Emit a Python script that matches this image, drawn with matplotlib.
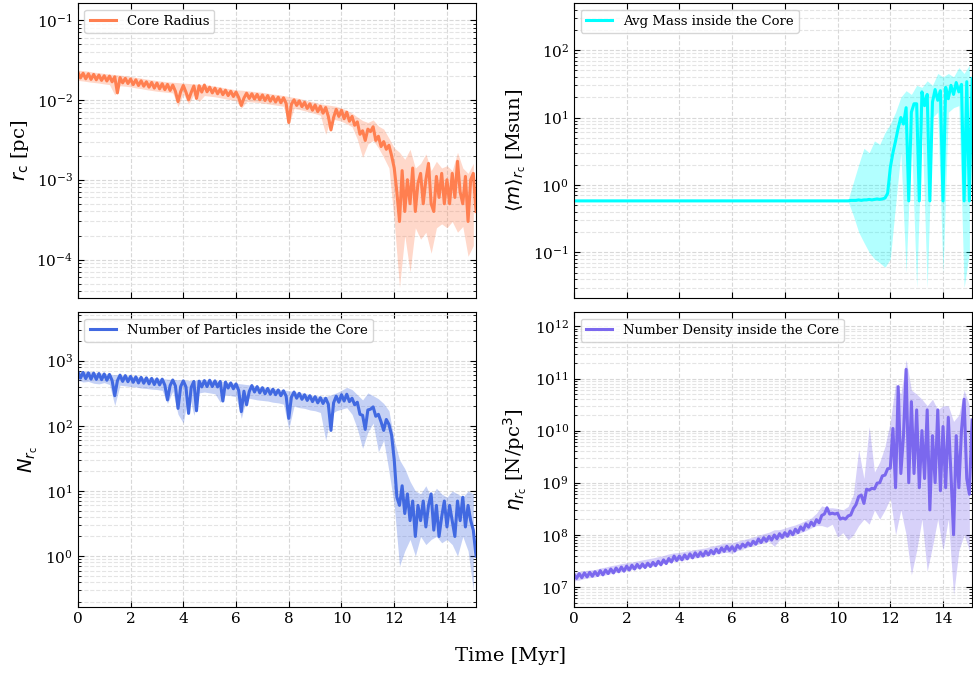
import numpy as np
import matplotlib
matplotlib.use("Agg")
import matplotlib.pyplot as plt
from matplotlib.ticker import MultipleLocator

plt.rcParams['font.family'] = 'DejaVu Serif'
plt.rcParams['mathtext.fontset'] = 'dejavusans'

# sampling times [Myr]: line every 0.1 Myr, shaded band every 0.2 Myr
t = np.round(np.arange(0, 15.15, 0.1), 1)
t_band = np.round(np.arange(0, 15.05, 0.2), 1)

# --- core radius [pc] ---
r_core = [
    0.0222, 0.0188, 0.0215, 0.0183, 0.0212, 0.0180, 0.0208, 0.0178, 0.0204, 0.0175,
    0.0200, 0.0172, 0.0198, 0.0168, 0.0194, 0.0122, 0.0190, 0.0163, 0.0186, 0.0160,
    0.0182, 0.0155, 0.0178, 0.0151, 0.0173, 0.0148, 0.0168, 0.0144, 0.0165, 0.0140,
    0.0162, 0.0137, 0.0159, 0.0134, 0.0156, 0.0131, 0.0153, 0.0128, 0.0095, 0.0126,
    0.0151, 0.0125, 0.0100, 0.0124, 0.0149, 0.0104, 0.0150, 0.0125, 0.0153, 0.0126,
    0.0144, 0.0122, 0.0140, 0.0119, 0.0136, 0.0116, 0.0132, 0.0113, 0.0128, 0.0110,
    0.0125, 0.0107, 0.0085, 0.0105, 0.0121, 0.0104, 0.0119, 0.0102, 0.0117, 0.0100,
    0.0115, 0.0098, 0.0113, 0.0096, 0.0110, 0.0094, 0.0108, 0.0092, 0.0106, 0.0090,
    0.0052, 0.0088, 0.0100, 0.0085, 0.0097, 0.0082, 0.0093, 0.0078, 0.0089, 0.0074,
    0.0086, 0.0071, 0.0083, 0.0068, 0.0080, 0.0062, 0.0042, 0.0060, 0.0076, 0.0062,
    0.0074, 0.0058, 0.0070, 0.0054, 0.0062, 0.0048, 0.0053, 0.0037, 0.0041, 0.0031,
    0.0043, 0.0040, 0.0046, 0.0031, 0.0035, 0.0026, 0.0030, 0.0024, 0.0027, 0.0020,
    0.0014, 0.0007, 0.0003, 0.0013, 0.0004, 0.0010, 0.0005, 0.0014, 0.0004, 0.0009,
    0.0012, 0.0005, 0.0010, 0.0016, 0.0005, 0.0004, 0.0011, 0.0006, 0.0012, 0.0005,
    0.0010, 0.0005, 0.0012, 0.0006, 0.0017, 0.0007, 0.0005, 0.0011, 0.0003, 0.0010,
    0.0012, 0.0004,
]
r_core_hi = [
    0.0235, 0.0232, 0.0228, 0.0222, 0.0218, 0.0214, 0.021, 0.0207, 0.0204, 0.02,
    0.0196, 0.0191, 0.0187, 0.0182, 0.0178, 0.0174, 0.0171, 0.0168, 0.0166, 0.0164,
    0.0162, 0.016, 0.0158, 0.0157, 0.0155, 0.0152, 0.0148, 0.0145, 0.014, 0.0137,
    0.0133, 0.0132, 0.013, 0.0128, 0.0126, 0.0124, 0.0121, 0.0118, 0.0116, 0.0113,
    0.011, 0.0107, 0.0104, 0.01, 0.0096, 0.0093, 0.0089, 0.0087, 0.0085, 0.0083,
    0.0079, 0.0074, 0.0068, 0.0061, 0.0055, 0.0052, 0.0056, 0.0047, 0.0043, 0.0033,
    0.0025, 0.0022, 0.0018, 0.0024, 0.0014, 0.0016, 0.0021, 0.0013, 0.0017, 0.0014,
    0.0015, 0.0013, 0.0022, 0.0014, 0.0012, 0.0016,
]
r_core_lo = [
    0.0175, 0.0172, 0.0168, 0.0165, 0.0162, 0.0158, 0.0155, 0.0115, 0.015, 0.0148,
    0.0145, 0.0141, 0.0138, 0.0134, 0.0131, 0.0128, 0.0126, 0.0124, 0.0122, 0.0082,
    0.0119, 0.0088, 0.0116, 0.0095, 0.0113, 0.0111, 0.0109, 0.0106, 0.0103, 0.01,
    0.0098, 0.0078, 0.0095, 0.0094, 0.0093, 0.0091, 0.0089, 0.0087, 0.0085, 0.0083,
    0.0048, 0.0078, 0.0076, 0.0073, 0.007, 0.0067, 0.0064, 0.0037, 0.0058, 0.0056,
    0.0054, 0.005, 0.0046, 0.0032, 0.0019, 0.0028, 0.0031, 0.0025, 0.0019, 0.0014,
    3e-4, 4.5e-5, 2e-4, 7e-5, 2.5e-4, 1.8e-4, 2.2e-4, 1.2e-4, 2.5e-4, 2.8e-4,
    2.5e-4, 3e-4, 2.2e-4, 2.6e-4, 1.1e-4, 1.5e-4,
]

# --- average stellar mass inside the core [Msun] ---
m_core = [
    0.58, 0.58, 0.58, 0.58, 0.58, 0.58, 0.58, 0.58, 0.58, 0.58,
    0.58, 0.58, 0.58, 0.58, 0.58, 0.58, 0.58, 0.58, 0.58, 0.58,
    0.58, 0.58, 0.58, 0.58, 0.58, 0.58, 0.58, 0.58, 0.58, 0.58,
    0.58, 0.58, 0.58, 0.58, 0.58, 0.58, 0.58, 0.58, 0.58, 0.58,
    0.58, 0.58, 0.58, 0.58, 0.58, 0.58, 0.58, 0.58, 0.58, 0.58,
    0.58, 0.58, 0.58, 0.58, 0.58, 0.58, 0.58, 0.58, 0.58, 0.58,
    0.58, 0.58, 0.58, 0.58, 0.58, 0.58, 0.58, 0.58, 0.58, 0.58,
    0.58, 0.58, 0.58, 0.58, 0.58, 0.58, 0.58, 0.58, 0.58, 0.58,
    0.58, 0.58, 0.58, 0.58, 0.58, 0.58, 0.58, 0.58, 0.58, 0.58,
    0.58, 0.58, 0.58, 0.58, 0.58, 0.58, 0.58, 0.58, 0.58, 0.58,
    0.58, 0.58, 0.58, 0.58, 0.58, 0.59, 0.59, 0.59, 0.6, 0.59,
    0.6, 0.6, 0.61, 0.6, 0.61, 0.62, 0.61, 0.62, 0.64, 0.75,
    1.8, 3.0, 4.5, 7.0, 10, 8.0, 14, 0.58, 12, 16,
    16, 0.58, 24, 15, 22, 0.58, 17, 26, 18, 25,
    0.58, 28, 19, 30, 22, 33, 24, 31, 0.58, 34,
    0.58, 38,
]
m_core_hi = [
    0.6, 0.6, 0.6, 0.6, 0.6, 0.6, 0.6, 0.6, 0.6, 0.6,
    0.6, 0.6, 0.6, 0.6, 0.6, 0.6, 0.6, 0.6, 0.6, 0.6,
    0.6, 0.6, 0.6, 0.6, 0.6, 0.6, 0.6, 0.6, 0.6, 0.6,
    0.6, 0.6, 0.6, 0.6, 0.6, 0.6, 0.6, 0.6, 0.6, 0.6,
    0.6, 0.6, 0.6, 0.6, 0.6, 0.6, 0.6, 0.6, 0.6, 0.6,
    0.6, 0.6, 0.6, 1.1, 2.0, 3.5, 3.0, 4.5, 4.0, 6.0,
    8, 12, 20, 25, 22, 30, 28, 35, 30, 45,
    40, 45, 40, 55, 45, 60,
]
m_core_lo = [
    0.57, 0.57, 0.57, 0.57, 0.57, 0.57, 0.57, 0.57, 0.57, 0.57,
    0.57, 0.57, 0.57, 0.57, 0.57, 0.57, 0.57, 0.57, 0.57, 0.57,
    0.57, 0.57, 0.57, 0.57, 0.57, 0.57, 0.57, 0.57, 0.57, 0.57,
    0.57, 0.57, 0.57, 0.57, 0.57, 0.57, 0.57, 0.57, 0.57, 0.57,
    0.57, 0.57, 0.57, 0.57, 0.57, 0.57, 0.57, 0.57, 0.57, 0.57,
    0.57, 0.57, 0.57, 0.35, 0.2, 0.14, 0.1, 0.08, 0.07, 0.06,
    0.08, 0.5, 3, 0.05, 5, 0.03, 8, 0.03, 10, 12,
    0.05, 12, 14, 15, 0.03, 0.1,
]

# --- number of particles inside the core ---
n_core = [
    680, 540, 660, 530, 650, 520, 645, 515, 635, 510,
    625, 500, 615, 495, 290, 490, 600, 480, 590, 475,
    575, 465, 565, 455, 555, 450, 545, 440, 535, 430,
    525, 425, 520, 420, 250, 415, 505, 410, 185, 400,
    490, 395, 155, 390, 480, 170, 485, 395, 495, 400,
    500, 400, 490, 395, 480, 240, 470, 380, 455, 370,
    440, 350, 165, 340, 210, 335, 415, 330, 400, 320,
    385, 310, 375, 305, 365, 300, 355, 290, 345, 285,
    130, 275, 330, 265, 315, 255, 300, 245, 290, 235,
    280, 225, 270, 220, 265, 215, 85, 225, 285, 230,
    300, 240, 305, 235, 265, 210, 230, 150, 145, 88,
    175, 180, 195, 140, 150, 115, 85, 125, 105, 72,
    30, 8, 6, 12, 4.5, 9, 3.5, 7, 2, 6,
    3.5, 7, 2.8, 6, 9, 2.5, 6, 2, 4, 7,
    2.8, 6, 3.5, 2, 7, 3.5, 8, 2.8, 6, 3.5,
    2.5, 1,
]
n_core_hi = [
    700, 680, 690, 660, 650, 640, 620, 610, 600, 590,
    580, 570, 560, 550, 545, 535, 530, 520, 515, 510,
    505, 500, 495, 510, 515, 505, 495, 485, 475, 460,
    450, 440, 430, 420, 405, 395, 385, 375, 365, 355,
    345, 335, 325, 315, 300, 290, 285, 280, 300, 320,
    350, 390, 360, 300, 250, 320, 290, 260, 220, 170,
    60, 30, 22, 14, 10, 9, 12, 8, 11, 9,
    8, 10, 9, 8, 10, 9,
]
n_core_lo = [
    500, 470, 480, 450, 440, 460, 430, 205, 420, 410,
    400, 395, 380, 375, 365, 360, 350, 220, 340, 150,
    110, 330, 145, 320, 330, 320, 310, 230, 300, 290,
    280, 130, 270, 260, 250, 245, 240, 230, 225, 215,
    90, 200, 190, 185, 175, 170, 160, 60, 150, 170,
    180, 190, 150, 90, 45, 80, 110, 40, 60, 20,
    6, 0.7, 1.2, 1.8, 1.0, 2.0, 1.5, 1.8, 2.0, 1.6,
    1.8, 1.5, 1.0, 2.0, 1.2, 0.3,
]

# --- number density inside the core [N/pc^3] ---
eta_core = [
    1.75e7, 1.45e7, 1.8e7, 1.5e7, 1.85e7, 1.55e7, 1.9e7, 1.6e7, 1.95e7, 1.65e7,
    2.05e7, 1.7e7, 2.1e7, 1.8e7, 2.2e7, 1.85e7, 2.3e7, 1.95e7, 2.4e7, 2.0e7,
    2.5e7, 2.1e7, 2.6e7, 2.2e7, 2.7e7, 2.3e7, 2.75e7, 2.35e7, 2.85e7, 2.45e7,
    2.95e7, 2.55e7, 3.1e7, 2.65e7, 3.3e7, 2.8e7, 3.5e7, 3.0e7, 3.9e7, 3.2e7,
    3.9e7, 3.3e7, 4.1e7, 3.45e7, 4.3e7, 3.6e7, 4.5e7, 3.8e7, 4.6e7, 3.9e7,
    4.8e7, 4.1e7, 5.0e7, 4.3e7, 5.3e7, 4.5e7, 5.6e7, 4.8e7, 6.0e7, 5.0e7,
    5.9e7, 4.9e7, 6.3e7, 5.5e7, 6.6e7, 5.9e7, 7.0e7, 6.2e7, 7.5e7, 6.6e7,
    8.3e7, 7.1e7, 8.8e7, 7.5e7, 9.3e7, 7.9e7, 9.9e7, 8.4e7, 1.05e8, 8.9e7,
    1.1e8, 9.4e7, 1.18e8, 1.0e8, 1.28e8, 1.1e8, 1.42e8, 1.22e8, 1.62e8, 1.4e8,
    1.75e8, 1.5e8, 1.95e8, 1.7e8, 2.35e8, 2.5e8, 3.3e8, 2.5e8, 2.6e8, 2.5e8,
    2.6e8, 2.0e8, 2.1e8, 2.0e8, 2.3e8, 2.4e8, 3.2e8, 3.8e8, 5.4e8, 5.8e8,
    4.0e8, 7.5e8, 7.2e8, 7.8e8, 7.6e8, 9.8e8, 1.0e9, 1.35e9, 1.4e9, 1.85e9,
    1.9e9, 1.1e10, 8e8, 7e10, 1.5e9, 8e9, 1.5e11, 1.0e9, 3.6e10, 1.5e9,
    2.5e10, 8e8, 1e10, 1.2e9, 2.5e10, 3e8, 8e9, 1.0e9, 2.5e10, 7e8,
    1.2e10, 8e8, 1.8e10, 1.5e9, 1e8, 8e9, 8e8, 1e10, 4e10, 1.2e9,
    6e8, 1.6e10,
]
eta_core_hi = [
    1.9e7, 1.95e7, 2.05e7, 2.1e7, 2.15e7, 2.3e7, 2.4e7, 2.55e7, 2.65e7, 2.8e7,
    2.9e7, 3.0e7, 3.15e7, 3.3e7, 3.45e7, 3.6e7, 3.8e7, 4.0e7, 4.3e7, 4.5e7,
    4.6e7, 4.8e7, 5.0e7, 5.2e7, 5.4e7, 5.6e7, 6.0e7, 6.3e7, 6.7e7, 7.0e7,
    7.0e7, 7.5e7, 8.0e7, 8.5e7, 9.0e7, 9.8e7, 1.05e8, 1.12e8, 1.25e8, 1.25e8,
    1.35e8, 1.45e8, 1.55e8, 1.7e8, 1.9e8, 2.1e8, 2.6e8, 3.6e8, 3.3e8, 3.3e8,
    3.2e8, 3.0e8, 3.5e8, 6e8, 4.3e9, 1.2e9, 1.2e10, 1.6e9, 2.5e9, 5e9,
    1.5e10, 8e10, 5e10, 2.3e11, 6e10, 5e10, 4e10, 3e10, 4e10, 2.5e10,
    3e10, 3e10, 1.5e10, 2e10, 6e10, 3e10,
]
eta_core_lo = [
    1.3e7, 1.35e7, 1.45e7, 1.5e7, 1.55e7, 1.65e7, 1.7e7, 1.8e7, 1.9e7, 1.95e7,
    2.05e7, 2.15e7, 2.25e7, 2.35e7, 2.45e7, 2.5e7, 2.7e7, 2.8e7, 3.0e7, 3.1e7,
    3.2e7, 3.3e7, 3.5e7, 3.6e7, 3.7e7, 3.9e7, 4.1e7, 4.3e7, 4.5e7, 4.6e7,
    4.4e7, 5.0e7, 5.3e7, 5.8e7, 6.2e7, 6.6e7, 7.0e7, 7.5e7, 6e7, 8.0e7,
    8.8e7, 9.5e7, 1.0e8, 1.1e8, 1.2e8, 1.35e8, 1.5e8, 1.5e8, 1.4e8, 1.6e8,
    9e7, 1.1e8, 8e7, 1e8, 1.5e8, 2e8, 1.6e8, 3e8, 2e8, 3e8,
    5e8, 1e8, 3e8, 1e8, 1.7e7, 5e7, 2e8, 2e7, 6e7, 2e8,
    5e7, 2e8, 7e6, 5e7, 1e8, 5e7,
]

panels = [
    (r_core, r_core_lo, r_core_hi, 'coral', 'Core Radius',
     r'$r_{\rm c}$ [pc]', (3.3e-5, 0.163)),
    (m_core, m_core_lo, m_core_hi, 'cyan', 'Avg Mass inside the Core',
     r'$\langle m \rangle_{r_{\rm c}}$ [Msun]', (0.021, 500)),
    (n_core, n_core_lo, n_core_hi, 'royalblue', 'Number of Particles inside the Core',
     r'$N_{r_{\rm c}}$', (0.165, 5600)),
    (eta_core, eta_core_lo, eta_core_hi, 'mediumslateblue', 'Number Density inside the Core',
     r'$\eta_{r_{\rm c}}$ [N/pc$^3$]', (4.1e6, 1.9e12)),
]

fig, axes = plt.subplots(2, 2, figsize=(9.73, 6.75), dpi=100, sharex=True)
fig.subplots_adjust(left=0.080, right=0.999, bottom=0.1007, top=0.9956,
                    wspace=0.246, hspace=0.047)

for ax, (y, lo, hi, color, label, ylabel, ylim) in zip(axes.flat, panels):
    ax.fill_between(t_band, lo, hi, color=color, alpha=0.3, lw=0)
    ax.plot(t, y, color=color, lw=2.2, label=label)
    ax.set_yscale('log')
    ax.set_xlim(0, 15.1)
    ax.set_ylim(*ylim)
    ax.set_ylabel(ylabel, fontsize=14)
    ax.xaxis.set_major_locator(MultipleLocator(2))
    ax.tick_params(which='both', direction='in', top=True, right=True, labelsize=11)
    ax.tick_params(which='major', length=4)
    ax.tick_params(which='minor', length=2)
    ax.grid(which='major', ls='--', color='#d8d8d8', lw=0.8)
    ax.grid(which='minor', axis='y', ls='--', color='#e4e4e4', lw=0.8)
    ax.set_axisbelow(True)
    ax.legend(loc='upper left', fontsize=9.5)

fig.text(0.525, 0.028, 'Time [Myr]', ha='center', va='center', fontsize=14)

fig.savefig('out.png', dpi=100)
